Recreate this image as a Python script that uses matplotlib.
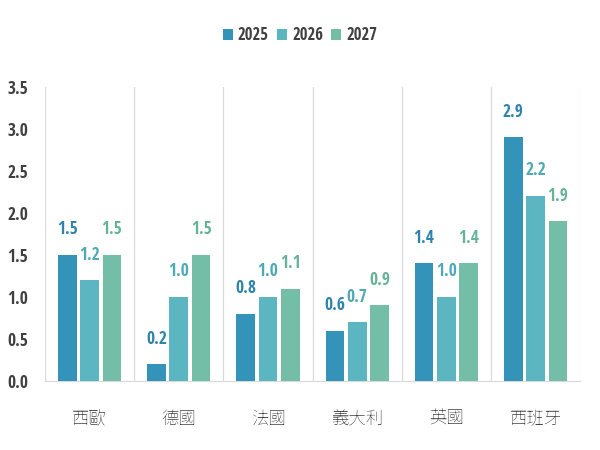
import matplotlib.pyplot as plt
import numpy as np

num_font = ["Open Sans Condensed", "Carlito", "DejaVu Sans"]
cjk_font = ["Noto Sans TC", "Noto Sans CJK JP", "DejaVu Sans"]
plt.rcParams["font.family"] = num_font + cjk_font

categories = ["西歐", "德國", "法國", "義大利", "英國", "西班牙"]
years = ["2025", "2026", "2027"]
v2025 = [1.5, 0.2, 0.8, 0.6, 1.4, 2.9]
v2026 = [1.2, 1.0, 1.0, 0.7, 1.0, 2.2]
v2027 = [1.5, 1.5, 1.1, 0.9, 1.4, 1.9]
yticks = [0.0, 0.5, 1.0, 1.5, 2.0, 2.5, 3.0, 3.5]

bar_colors = ["#3393b8", "#5bb6c1", "#74bda6"]
label_colors = ["#2f84aa", "#4ea9b6", "#67b29a"]

fig = plt.figure(figsize=(6, 4.5), dpi=100)
ax = fig.add_axes([0.075, 0.153, 0.892, 0.654])

x = np.arange(len(categories))
width = 0.21
step = 0.25
series = [v2025, v2026, v2027]
for i, (vals, year) in enumerate(zip(series, years)):
    pos = x + (i - 1) * step
    ax.bar(pos, vals, width, color=bar_colors[i], label=year, zorder=3)
    for px, v in zip(pos, vals):
        ax.annotate(f"{v:.1f}", (px, v), xytext=(0, 12), textcoords="offset points",
                    ha="center", va="bottom", fontsize=12.5, fontweight="bold",
                    color=label_colors[i], family=num_font)

# vertical separators between categories
for b in np.arange(-0.5, len(categories) + 0.5, 1):
    ax.axvline(b, color="#d9d9d9", linewidth=0.9, zorder=1)

ax.set_xlim(-0.5, len(categories) - 0.5)
ax.set_ylim(0, 3.5)
ax.set_yticks(yticks)
ax.set_yticklabels([f"{t:.1f}" for t in yticks], fontsize=12.5, fontweight="bold",
                   color="#404040", family=num_font)
ax.set_xticks(x)
ax.set_xticklabels(categories, fontsize=12.5, color="#404040", family=cjk_font)
ax.tick_params(axis="both", length=0)
ax.tick_params(axis="y", pad=12)
ax.tick_params(axis="x", pad=20)
for s in ["top", "right", "left"]:
    ax.spines[s].set_visible(False)
ax.spines["bottom"].set_color("#d9d9d9")

leg = fig.legend(loc="upper center", bbox_to_anchor=(0.5, 0.975), ncol=3, frameon=False,
                 handlelength=0.6, handleheight=0.6, handletextpad=0.3, columnspacing=0.5,
                 prop={"family": num_font, "weight": "bold", "size": 12})
for t in leg.get_texts():
    t.set_color("#404040")

fig.savefig("out.png", dpi=100)
